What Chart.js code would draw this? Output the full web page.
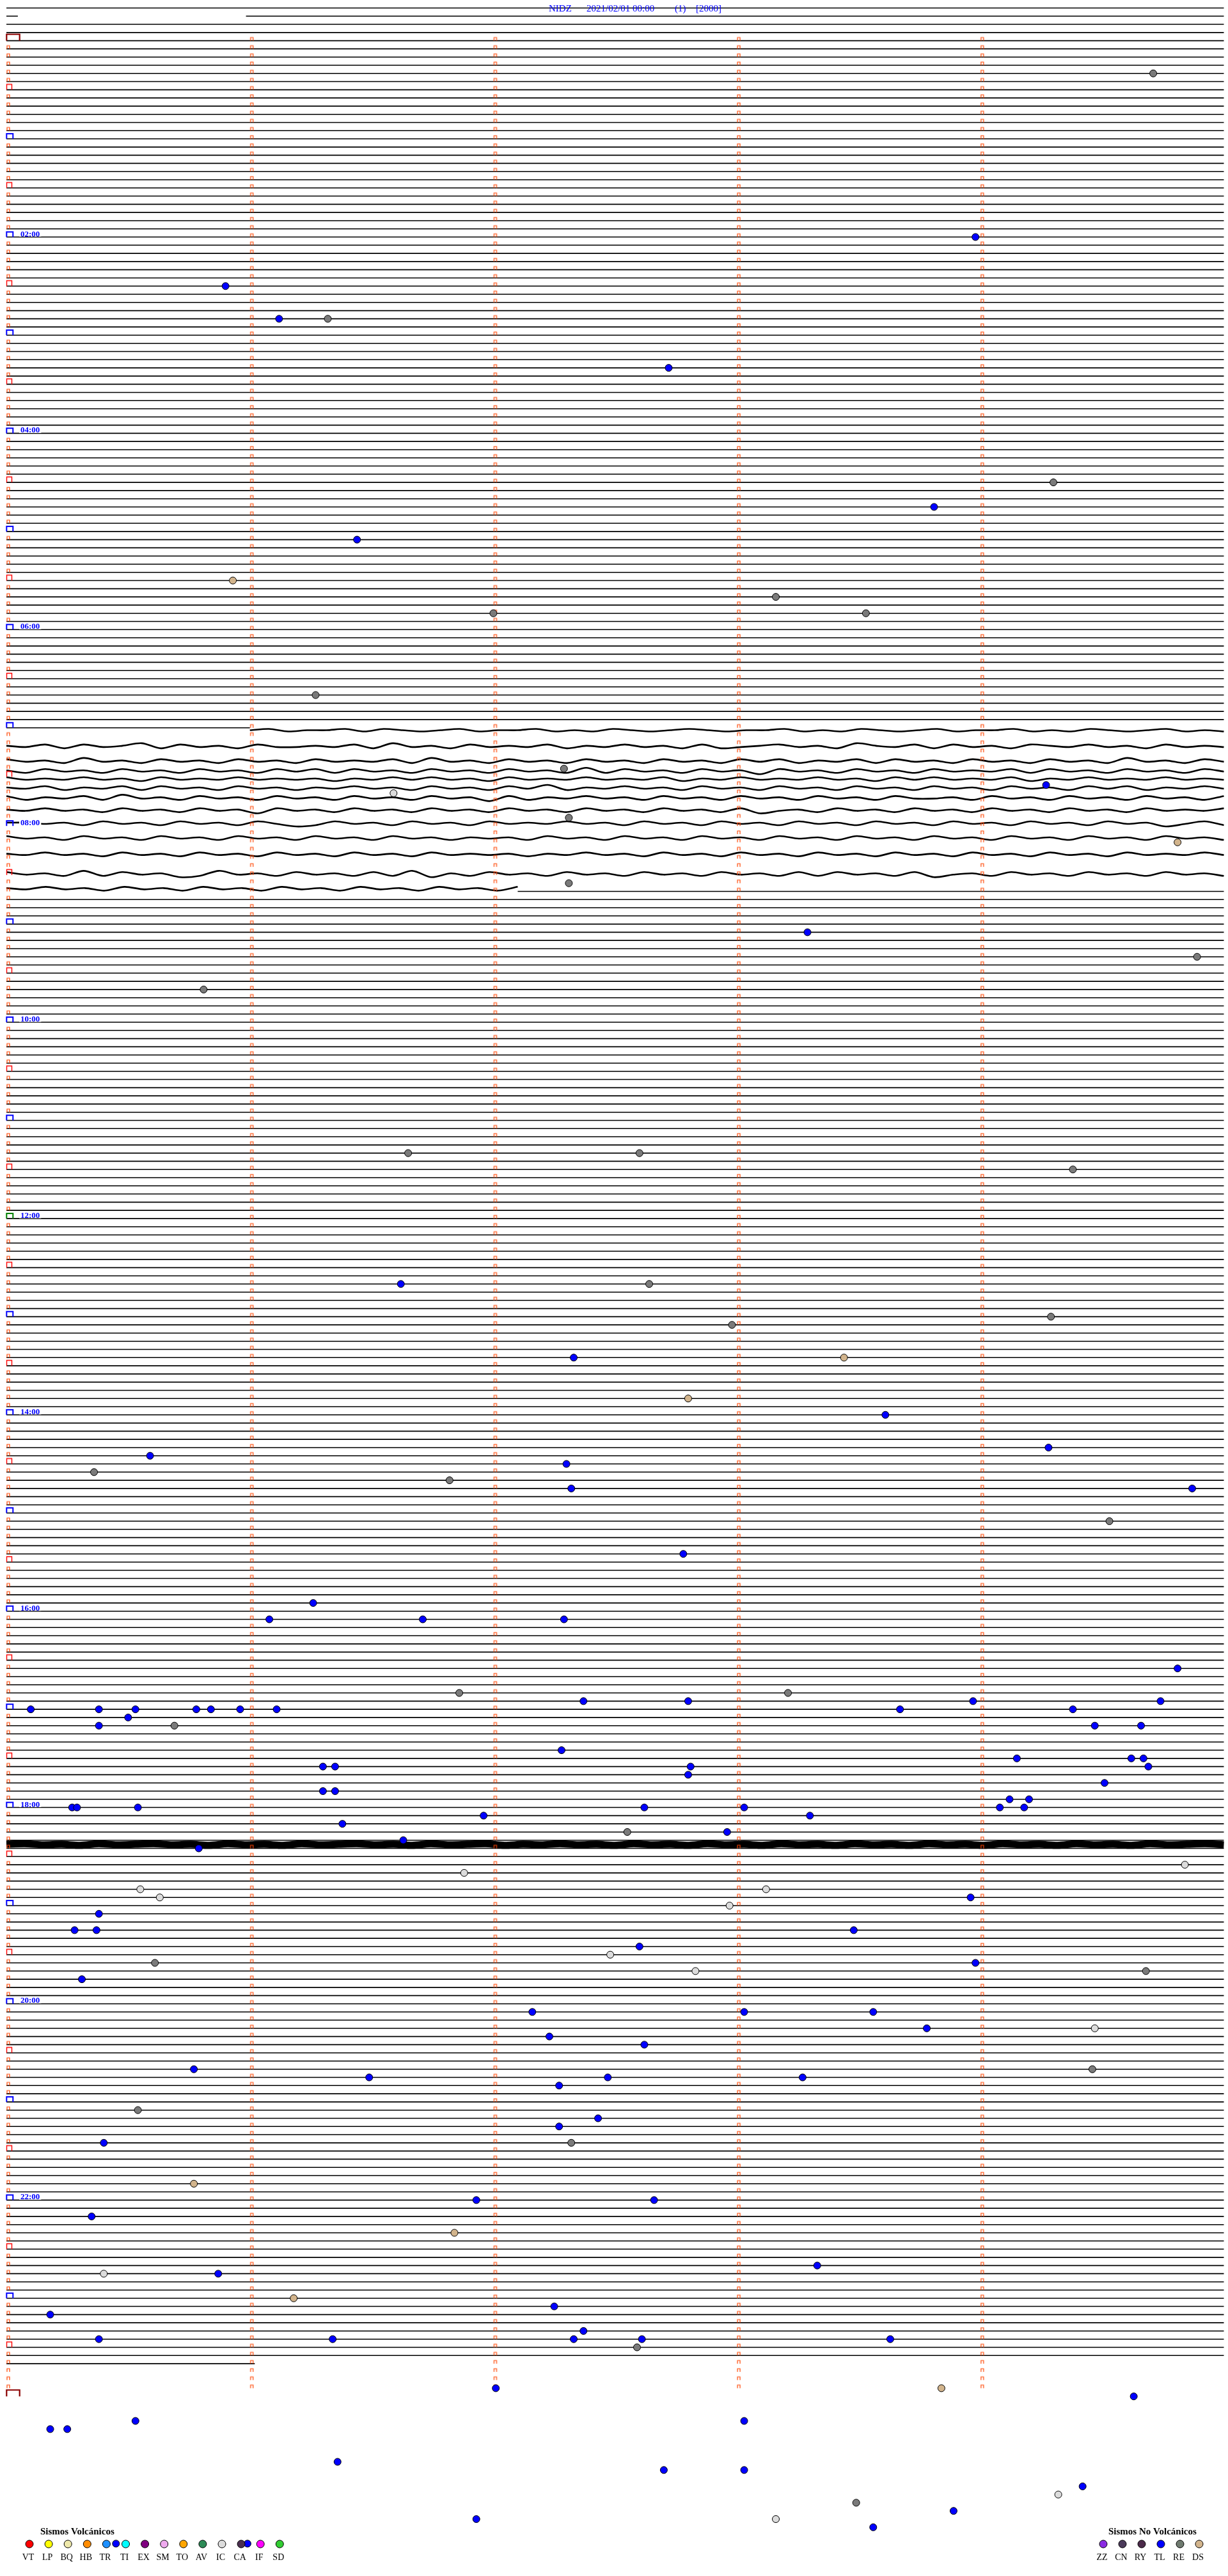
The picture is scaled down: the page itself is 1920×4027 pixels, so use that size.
<!DOCTYPE html>
<html>
<head>
<meta charset="utf-8">
<script src="https://cdn.jsdelivr.net/npm/chart.js@4.4.1/dist/chart.umd.min.js"></script>
<style>
html, body { margin: 0; padding: 0; background: #fff; overflow: hidden; }
#wrap { position: relative; width: 1920px; height: 4027px; }
</style>
</head>
<body>
<div id="wrap"><canvas id="heli"></canvas></div>
<script>
// helicorder: one trace line per 5 minutes, 12 lines per hour
var minutesPerLine = 5;
var firstLine = -4;
var lastLine = 284;
var lastMarkLine = 287;
var tickMinutes = [0, 1, 2, 3, 4];
var midnightLines = [0, 288];
var titleParts = ['NIDZ', '2021/02/01 00:00', '(1)', '[2000]'];

var hourLabels = ['02:00', '04:00', '06:00', '08:00', '10:00', '12:00', '14:00', '16:00', '18:00', '20:00', '22:00'];
var hourLabelLines = [24, 48, 72, 96, 120, 144, 168, 192, 216, 240, 264];

// lines that are only partly drawn: [line, from minute, to minute]
var partialLines = [[-3, 0, 0.047], [-3, 0.984, 5], [84, 0, 1.0], [104, 2.1, 5], [284, 0, 1.02]];
var hiddenFrom = 85, hiddenTo = 103;   // covered by the wavy traces

// wavy traces 07:00 - 08:40 (digit 5 = centre, 1 digit = 2 px)
var waveCenters = [84.3, 86.2, 88.0, 89.2, 90.2, 91.3, 92.5, 94.0, 95.6, 97.4, 99.4, 101.8, 103.6];
var waveStart = [1.0, 0, 0, 0, 0, 0, 0, 0, 0, 0, 0, 0, 0];
var waveEnd = [5, 5, 5, 5, 5, 5, 5, 5, 5, 5, 5, 5, 2.1];
var waveTraces = [
    '5465546456546554656456545655465645654655465645654656',
    '5647465374657466564736574656475646574765465735647465745646574656',
    '4657365746574657465647365746574657465746475647465746574657365746',
    '5746574657465746474657465746573746574658465746574656474657465746',
    '4656465746564656575646465746564656475646564657464656475646564656',
    '5647564746574657564657465746375646574657465746574657465746475646',
    '4756473657465746574657465847564657465746574657466574657465746574',
    '5646574657465846574657465746574657465748657465746574657465746564',
    '5565746574657468746574657465646574657465746574657465746574658647',
    '4657465746574657465746575657465746574657465746574657465746574657',
    '5646574657465746574657465657564657465746574657465746574657465646',
    '4657374658736574657473857465746574657465747465748657465746574657',
    '564657465746574657465746574'
];
// thick noisy trace at 18:20
var noiseLine = 220.5;
var noiseTrace = '5465746546574657465465746547564657465746574657465746574657465746546';

// events, minutes after 00:00
var tlTimes = [123.98, 150.90, 171.12, 202.72, 288.81, 306.44, 459.27, 548.29, 761.62, 807.33, 843.61, 864.28, 865.59,
    872.30, 887.32, 889.87, 927.78, 956.26, 966.08, 966.71, 967.29, 999.81, 1017.37, 1017.80, 1018.97, 1019.74,
    1020.10, 1020.38, 1020.53, 1020.78, 1020.84, 1020.96, 1021.11, 1023.67, 1024.38, 1025.50, 1030.38, 1034.47,
    1034.66, 1047.28, 1054.15, 1054.62, 1054.67, 1056.30, 1056.35, 1057.81, 1059.69, 1062.80, 1069.51, 1071.30,
    1071.35, 1079.12, 1079.20, 1080.27, 1080.29, 1080.54, 1082.62, 1083.03, 1084.08, 1084.18, 1086.96, 1088.30,
    1091.38, 1097.96, 1101.63, 1105.79, 1138.96, 1145.38, 1155.28, 1155.37, 1158.48, 1167.60, 1178.98, 1185.31,
    1207.16, 1208.03, 1208.56, 1218.78, 1222.23, 1227.62, 1240.77, 1246.49, 1247.47, 1248.27, 1252.27, 1272.43,
    1277.27, 1285.40, 1321.93, 1322.66, 1330.35, 1363.33, 1365.87, 1387.25, 1390.18, 1402.37, 1405.38, 1406.34,
    1407.33, 1407.61, 1408.63, 1437.01, 1444.63, 1455.53, 1458.03, 1460.18, 1460.25, 1481.36, 1487.70, 1488.03,
    1499.42, 1513.89, 1516.93, 1523.56, 1530.45, 1530.99];
var reTimes = [24.71, 171.32, 274.30, 343.16, 352.00, 353.53, 401.27, 447.29, 477.31, 517.31, 564.89, 580.81, 681.65,
    682.60, 694.38, 762.64, 784.29, 787.98, 875.36, 881.82, 909.53, 1011.86, 1013.21, 1030.69, 1097.55, 1175.61,
    1184.68, 1244.46, 1265.54, 1287.32, 1412.59, 1508.49];
var dsTimes = [330.93, 494.81, 808.44, 832.80, 1310.77, 1341.84, 1381.18, 1438.84];
var icTimes = [461.59, 1119.84, 1121.88, 1130.55, 1133.12, 1135.63, 1142.97, 1172.48, 1182.83, 1219.47, 1365.40,
    1504.32, 1518.16];

var volcanicCodes = ['VT', 'LP', 'BQ', 'HB', 'TR', 'TI', 'EX', 'SM', 'TO', 'AV', 'IC', 'CA', 'IF', 'SD'];
var volcanicColors = ['#ff0000', '#ffff00', '#eee8aa', '#ff8c00', '#1e90ff', '#00ffff', '#800080', '#eeaaee',
    '#ffa500', '#2e8b57', '#dcdcdc', '#4b3050', '#ff00ff', '#32cd32'];
var otherCodes = ['ZZ', 'CN', 'RY', 'TL', 'RE', 'DS'];
var otherColors = ['#8a2be2', '#4b3a5a', '#4b2a4a', '#0000ff', '#6f7a6f', '#d2b48c'];

// ---- build datasets ----
function gap() { return {x: null, y: null}; }

var baseData = [];
for (var k = firstLine; k <= lastLine; k++) {
    if (k >= hiddenFrom && k <= hiddenTo) continue;
    var partial = partialLines.filter(function (p) { return p[0] === k; });
    if (partial.length) {
        partial.forEach(function (p) { baseData.push({x: p[1], y: k}, {x: p[2], y: k}, gap()); });
    } else {
        baseData.push({x: 0, y: k}, {x: minutesPerLine, y: k}, gap());
    }
}

function traceData(str, center, from, to, pxPerUnit) {
    var out = [];
    for (var i = 0; i < str.length; i++) {
        var off = (parseInt(str.charAt(i), 10) - 5) * pxPerUnit / 12.828;
        out.push({x: from + (to - from) * i / (str.length - 1), y: center + off});
    }
    return out;
}

var waveData = [];
for (var w = 0; w < waveTraces.length; w++) {
    waveData = waveData.concat(traceData(waveTraces[w], waveCenters[w], waveStart[w], waveEnd[w], 2));
    waveData.push(gap());
}
var noiseData = traceData(noiseTrace, noiseLine, 0, minutesPerLine, 0.8);

function eventPoints(times) {
    return times.map(function (t) {
        var line = Math.floor(t / minutesPerLine);
        return {x: t - line * minutesPerLine, y: line};
    });
}

// little open boxes sitting on a line, drawn from the tick to the right
function makeMark(left, width, height, color, lw) {
    var halfW = Math.ceil(Math.max(Math.abs(left), left + width) + lw + 1);
    var halfH = Math.ceil(height + lw + 1);
    var c = document.createElement('canvas');
    c.width = halfW * 2;
    c.height = halfH * 2;
    var g = c.getContext('2d');
    g.strokeStyle = color;
    g.lineWidth = lw;
    g.beginPath();
    g.moveTo(halfW + left, halfH);
    g.lineTo(halfW + left, halfH - height);
    g.lineTo(halfW + left + width, halfH - height);
    g.lineTo(halfW + left + width, halfH);
    g.stroke();
    return c;
}
var smallMark = makeMark(1, 4, 5, '#ff4500', 1.2);
var halfMark = makeMark(0.5, 8, 8.5, '#ff0000', 1.4);
var hourMark = makeMark(0.3, 10, 8, '#0000ff', 2);
var noonMark = makeMark(0.3, 10, 8, '#008000', 2);
var dayMark = makeMark(0.3, 20.4, 10, '#8b0000', 2.2);

var smallPts = [], halfPts = [], hourPts = [], noonPts = [], dayPts = [];
for (var m = 0; m <= lastMarkLine; m++) {
    tickMinutes.forEach(function (t) {
        if (t === 0 && midnightLines.indexOf(m) >= 0) dayPts.push({x: t, y: m});
        else if (t === 0 && m === 144) noonPts.push({x: t, y: m});
        else if (t === 0 && m % 12 === 0) hourPts.push({x: t, y: m});
        else if (t === 0 && m % 12 === 6) halfPts.push({x: t, y: m});
        else smallPts.push({x: t, y: m});
    });
}
dayPts.push({x: 0, y: 288});

function markSet(data, img) {
    return {data: data, pointStyle: img, pointRadius: 1, showLine: false, clip: false, order: 1};
}
function eventSet(times, color) {
    return {data: eventPoints(times), showLine: false, pointRadius: 5.5, pointBackgroundColor: color,
        pointBorderColor: '#000', pointBorderWidth: 1, clip: false, order: 0};
}

var heliText = {
    id: 'heliText',
    afterDatasetsDraw: function (chart) {
        var c = chart.ctx, xs = chart.scales.x, ys = chart.scales.y;
        c.save();
        c.textBaseline = 'alphabetic';
        // header
        c.fillStyle = '#0000ff';
        c.font = '15px "Liberation Serif", "Times New Roman", serif';
        var tx = [858, 917, 1055, 1088];
        for (var i = 0; i < titleParts.length; i++) c.fillText(titleParts[i], tx[i], 18);
        // hour labels
        c.font = 'bold 13px "Liberation Serif", "Times New Roman", serif';
        for (var h = 0; h < hourLabels.length; h++) {
            var px = xs.getPixelForValue(0) + 22;
            var py = ys.getPixelForValue(hourLabelLines[h]);
            var tw = c.measureText(hourLabels[h]).width;
            c.fillStyle = '#ffffff';
            c.fillRect(px - 2, py - 11, tw + 4, 10.5);
            c.fillStyle = '#0000ff';
            c.fillText(hourLabels[h], px, py - 1);
        }
        // legends
        drawLegend(c, 'Sismos Volcánicos', 63, volcanicCodes, volcanicColors, 46, 30.1);
        drawLegend(c, 'Sismos No Volcánicos', 1733, otherCodes, otherColors, 1725, 30);
        c.restore();
    }
};

function drawLegend(c, title, titleX, codes, colors, x0, step) {
    c.textAlign = 'left';
    c.fillStyle = '#000';
    c.font = 'bold 15px "Liberation Serif", "Times New Roman", serif';
    c.fillText(title, titleX, 3962);
    c.font = '14px "Liberation Serif", "Times New Roman", serif';
    c.textAlign = 'center';
    for (var i = 0; i < codes.length; i++) {
        var cx = x0 + i * step;
        c.beginPath();
        c.arc(cx, 3977, 6, 0, Math.PI * 2);
        c.fillStyle = colors[i];
        c.fill();
        c.lineWidth = 1;
        c.strokeStyle = '#000';
        c.stroke();
        c.fillStyle = '#000';
        c.fillText(codes[i], cx - 2, 4002);
    }
    c.textAlign = 'left';
}

var ctx = document.getElementById('heli').getContext('2d');
var heli = new Chart(ctx, {
    type: 'scatter',
    data: {
        datasets: [
            eventSet(tlTimes, '#0000ff'),
            eventSet(reTimes, '#7a7a7a'),
            eventSet(dsTimes, '#d2b48c'),
            eventSet(icTimes, '#dcdcdc'),
            markSet(smallPts, smallMark),
            markSet(halfPts, halfMark),
            markSet(hourPts, hourMark),
            markSet(noonPts, noonMark),
            markSet(dayPts, dayMark),
            {data: waveData, showLine: true, pointRadius: 0, borderColor: '#000', borderWidth: 2.6,
                tension: 0.3, clip: false, order: 2},
            {data: noiseData, showLine: true, pointRadius: 0, borderColor: '#000', borderWidth: 11,
                tension: 0.3, clip: false, order: 3},
            {data: baseData, showLine: true, pointRadius: 0, borderColor: '#000', borderWidth: 1.6,
                clip: false, order: 4}
        ]
    },
    options: {
        responsive: true,
        maintainAspectRatio: false,
        animation: false,
        events: [],
        layout: {padding: {left: 10, right: 0, top: 0, bottom: 0}},
        scales: {
            x: {type: 'linear', min: 0, max: minutesPerLine, display: false},
            y: {type: 'linear', min: -4.467, max: 309.45, reverse: true, display: false}
        },
        plugins: {legend: {display: false}, tooltip: {enabled: false}, title: {display: false}}
    },
    plugins: [heliText]
});
</script>
</body>
</html>
